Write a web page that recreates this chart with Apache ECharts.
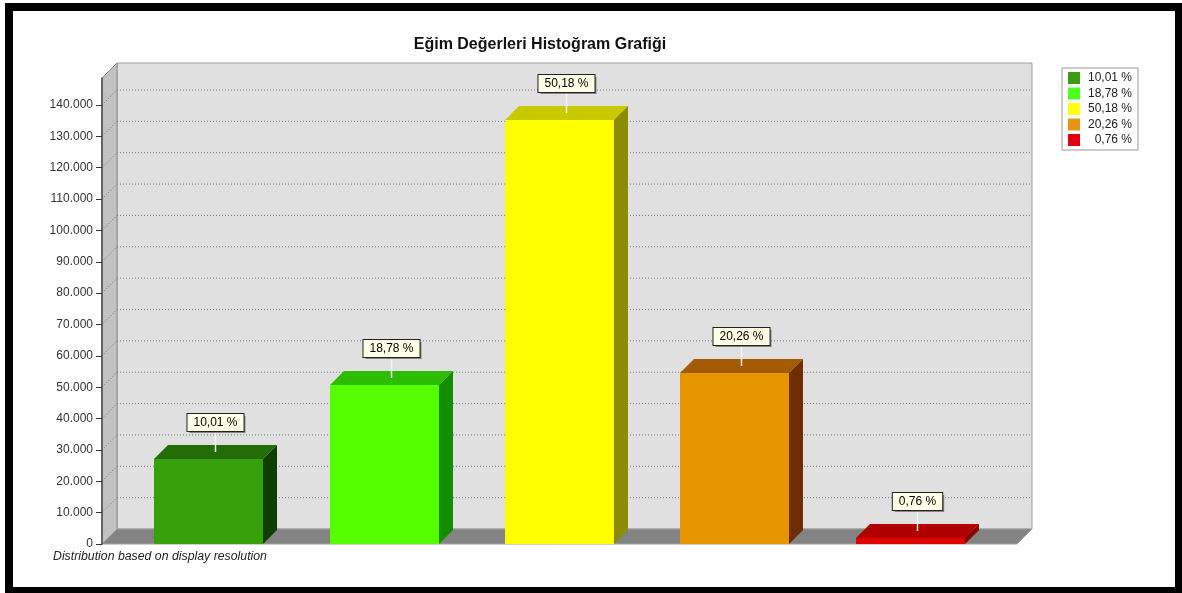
<!DOCTYPE html>
<html><head><meta charset="utf-8">
<script src="https://cdn.jsdelivr.net/npm/echarts@6/dist/echarts.min.js"></script>
<style>
html,body{margin:0;padding:0;background:#fff;}
#c{position:absolute;left:0;top:0;width:1182px;height:593px;}
#frame{position:absolute;left:5px;top:3px;width:1162px;height:576px;border-style:solid;border-color:#000;border-width:8px 7px 7px 8px;pointer-events:none;}
</style></head>
<body>
<div id="c"></div>
<div id="frame"></div>
<script>
// ---- data ----
const categories = ['10,01 %', '18,78 %', '50,18 %', '20,26 %', '0,76 %'];
const values = [26980, 50610, 135230, 54600, 2050];
const yTickValues = [0, 10000, 20000, 30000, 40000, 50000, 60000, 70000, 80000, 90000, 100000, 110000, 120000, 130000, 140000];
const yTickLabels = ['0', '10.000', '20.000', '30.000', '40.000', '50.000', '60.000', '70.000', '80.000', '90.000', '100.000', '110.000', '120.000', '130.000', '140.000'];
const titleText = 'Eğim Değerleri Histoğram Grafiği';
const footText = 'Distribution based on display resolution';

// ---- styles ----
const FONT = '"Liberation Sans", Arial, sans-serif';
const X_MIN = -0.61, X_MAX = 4.61, Y_MAX = 148600;
const BAR_W = 0.622, BAR_D = 14, WALL_D = 15;
const barColors = [
  {front: '#37a10b', top: '#246d06', side: '#0c3f00', legend: '#3a9c10'},
  {front: '#55ff00', top: '#2cbd00', side: '#138e00', legend: '#4cff1f'},
  {front: '#ffff00', top: '#c9c900', side: '#8c8c00', legend: '#ffff10'},
  {front: '#e69500', top: '#a45a00', side: '#6f2d00', legend: '#e69510'},
  {front: '#e00000', top: '#b00000', side: '#8a0000', legend: '#e00010'}
];

function renderFrame(params, api) {
  const fl = api.coord([X_MIN, 0]);
  const fr = api.coord([X_MAX, 0]);
  const tl = api.coord([X_MIN, Y_MAX]);
  const tr = api.coord([X_MAX, Y_MAX]);
  const D = WALL_D;
  const ch = [];
  ch.push({type: 'polygon', shape: {points: [[tl[0]+D, tl[1]-D], [tr[0]+D, tr[1]-D], [fr[0]+D, fr[1]-D], [fl[0]+D, fl[1]-D]]},
    style: {fill: '#e0e0e0', stroke: '#9c9c9c', lineWidth: 1}});
  yTickValues.forEach(function (v) {
    if (v === 0) return;
    const p = api.coord([X_MIN, v]);
    const q = api.coord([X_MAX, v]);
    ch.push({type: 'line', shape: {x1: p[0]+D, y1: p[1]-D, x2: q[0]+D, y2: q[1]-D},
      style: {stroke: '#7a7a7a', lineWidth: 1, lineDash: [1, 2]}});
  });
  ch.push({type: 'polygon', shape: {points: [fl, tl, [tl[0]+D, tl[1]-D], [fl[0]+D, fl[1]-D]]},
    style: {fill: '#c2c2c2', stroke: '#8c8c8c', lineWidth: 1}});
  yTickValues.forEach(function (v) {
    if (v === 0) return;
    const p = api.coord([X_MIN, v]);
    ch.push({type: 'line', shape: {x1: p[0], y1: p[1], x2: p[0]+D, y2: p[1]-D},
      style: {stroke: '#7a7a7a', lineWidth: 1, lineDash: [1, 2]}});
  });
  ch.push({type: 'polygon', shape: {points: [fl, fr, [fr[0]+D, fr[1]-D], [fl[0]+D, fl[1]-D]]},
    style: {fill: '#838383', stroke: '#a0a0a0', lineWidth: 1}});
  return {type: 'group', children: ch};
}

function renderBar(params, api) {
  const i = api.value(0), v = api.value(1);
  const c = barColors[params.seriesIndex - 1];
  const p0 = api.coord([i - BAR_W / 2, 0]);
  const p1 = api.coord([i + BAR_W / 2, v]);
  const x0 = Math.round(p0[0]), y0 = Math.round(p0[1]), x1 = Math.round(p1[0]), y1 = Math.round(p1[1]);
  const d = BAR_D;
  const cx = (x0 + x1) / 2 + d / 2;
  const cy = y1 - d / 2;
  const boxBottom = cy - 21;
  const label = categories[i];
  const txtStyle = {text: label, font: '12px ' + FONT, align: 'center', verticalAlign: 'bottom',
    padding: [2, 6, 2, 6], lineHeight: 13};
  return {type: 'group', children: [
    {type: 'polygon', shape: {points: [[x0, y1], [x1, y1], [x1+d, y1-d], [x0+d, y1-d]]}, style: {fill: c.top}},
    {type: 'polygon', shape: {points: [[x1, y0], [x1, y1], [x1+d, y1-d], [x1+d, y0-d]]}, style: {fill: c.side}},
    {type: 'rect', shape: {x: x0, y: y1, width: x1 - x0, height: y0 - y1}, style: {fill: c.front}},
    {type: 'line', shape: {x1: cx, y1: cy, x2: cx, y2: boxBottom}, style: {stroke: '#f4f4f4', lineWidth: 1.5}},
    {type: 'text', x: cx + 2, y: boxBottom + 2, style: Object.assign({}, txtStyle, {fill: 'rgba(0,0,0,0)', backgroundColor: 'rgba(60,60,60,0.55)'})},
    {type: 'text', x: cx, y: boxBottom, style: Object.assign({}, txtStyle, {fill: '#000', backgroundColor: '#ffffe6', borderColor: '#222', borderWidth: 1})}
  ]};
}

const series = [{
  type: 'custom', name: '_frame', renderItem: renderFrame, data: [[0, 0]], clip: false, silent: true, z: 1
}];
categories.forEach(function (name, i) {
  series.push({
    type: 'custom', name: name, renderItem: renderBar, data: [[i, values[i]]], clip: false, z: 3,
    itemStyle: {color: barColors[i].legend}
  });
});

const chart = echarts.init(document.getElementById('c'), null, {renderer: 'canvas'});
chart.setOption({
  animation: false,
  backgroundColor: '#ffffff',
  grid: {left: 102, right: 165, top: 78, bottom: 49},
  xAxis: {type: 'value', min: X_MIN, max: X_MAX, show: false},
  yAxis: {
    type: 'value', min: 0, max: Y_MAX, z: 5, position: 'left',
    axisLine: {show: true, onZero: false, lineStyle: {color: '#4a4a4a', width: 1.5}},
    axisTick: {show: true, length: 6, customValues: yTickValues, lineStyle: {color: '#333', width: 1}},
    axisLabel: {customValues: yTickValues, margin: 9, color: '#333', fontSize: 12, fontFamily: FONT,
      formatter: function (v) { const k = yTickValues.indexOf(v); return k >= 0 ? yTickLabels[k] : ''; }},
    splitLine: {show: false}
  },
  legend: {
    data: categories, orient: 'vertical', left: 1062, top: 68,
    padding: [4, 6, 4, 6], itemGap: 3.5, itemWidth: 12, itemHeight: 12, icon: 'rect',
    borderColor: '#999', borderWidth: 1, selectedMode: false,
    formatter: function (n) { return '{a|' + n + '}'; },
    textStyle: {fontSize: 12, fontFamily: FONT, color: '#222',
      rich: {a: {width: 47, align: 'right', fontSize: 12, fontFamily: FONT, color: '#222'}}}
  },
  graphic: [
    {type: 'text', x: 540, y: 45, style: {text: titleText, font: 'bold 16px ' + FONT, fill: '#111', align: 'center', verticalAlign: 'middle'}},
    {type: 'text', x: 53, y: 557, style: {text: footText, font: 'italic 12.3px ' + FONT, fill: '#222', align: 'left', verticalAlign: 'middle'}}
  ],
  series: series
});
</script>
</body></html>
